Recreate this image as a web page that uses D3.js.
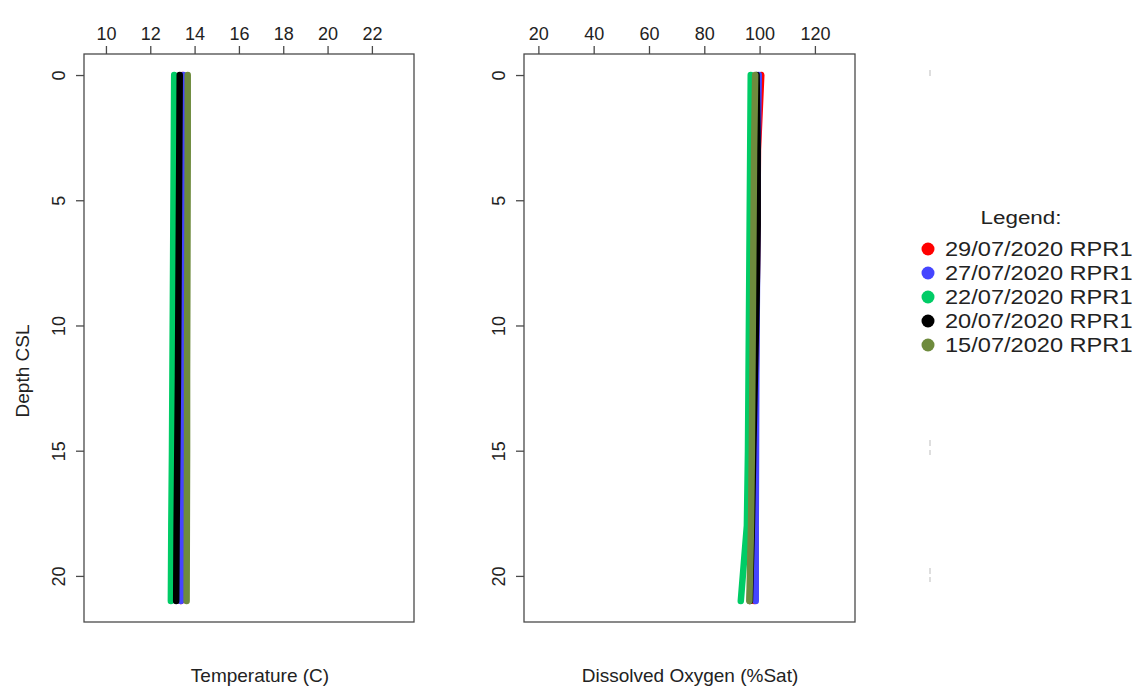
<!DOCTYPE html>
<html>
<head>
<meta charset="utf-8">
<script src="https://cdn.jsdelivr.net/npm/d3@7"></script>
<style>
  html, body { margin: 0; padding: 0; background: #fff; }
  svg { display: block; font-family: "Liberation Sans", Arial, sans-serif; }
</style>
</head>
<body>
<svg id="chart" width="1135" height="688"></svg>
<script>
// Profile depths (m, CSL) at which each cast was sampled
const depths = [0, 3, 6, 9, 12, 15, 18, 21];

// Cast labels, legend order
const casts = ["29/07/2020 RPR1", "27/07/2020 RPR1", "22/07/2020 RPR1", "20/07/2020 RPR1", "15/07/2020 RPR1"];
const castColors = ["#ff0000", "#4545ff", "#00cc66", "#000000", "#6e8b3d"];

// Temperature (C) per cast, one value per depth
const temp29 = [13.45, 13.44, 13.43, 13.42, 13.41, 13.40, 13.39, 13.38];
const temp27 = [13.50, 13.48, 13.46, 13.44, 13.42, 13.40, 13.39, 13.38];
const temp22 = [13.08, 13.06, 13.04, 13.02, 13.00, 12.98, 12.95, 12.93];
const temp20 = [13.33, 13.31, 13.29, 13.27, 13.25, 13.22, 13.19, 13.17];
const temp15 = [13.69, 13.69, 13.68, 13.67, 13.66, 13.66, 13.65, 13.64];

// Dissolved oxygen (%Sat) per cast, one value per depth
const do29 = [100.6, 99.4, 99.2, 98.9, 98.6, 98.4, 98.2, 98.1];
const do27 = [99.7, 99.3, 99.2, 99.0, 98.8, 98.7, 98.6, 98.6];
const do22 = [96.8, 96.6, 96.4, 96.2, 96.0, 95.8, 95.4, 93.2];
const do20 = [98.9, 99.3, 99.3, 98.9, 98.3, 97.7, 97.2, 96.5];
const do15 = [98.4, 98.0, 97.8, 97.6, 97.4, 97.2, 96.9, 96.3];

// Axis ticks
const tempTicks = [10, 12, 14, 16, 18, 20, 22];
const doTicks = [20, 40, 60, 80, 100, 120];
const depthTicks = [0, 5, 10, 15, 20];

const tempSeries = [temp29, temp27, temp22, temp20, temp15];
const doSeries = [do29, do27, do22, do20, do15];

const svg = d3.select("#chart");

const frameTop = 54, frameBottom = 622;
const y = d3.scaleLinear().domain([-0.84, 21.84]).range([frameTop, frameBottom]);

const panels = [
  { x0: 84, x1: 414, domain: [9.01, 23.9], ticks: tempTicks, series: tempSeries,
    title: "Temperature (C)", titleX: 260 },
  { x0: 524, x1: 855, domain: [14.8, 134.5], ticks: doTicks, series: doSeries,
    title: "Dissolved Oxygen (%Sat)", titleX: 690 }
];

const axisColor = "#4a4a4a";
const textColor = "#222";

panels.forEach(p => {
  const x = d3.scaleLinear().domain(p.domain).range([p.x0, p.x1]);
  const g = svg.append("g");

  // profile lines
  const line = d3.line()
    .x(d => x(d.v))
    .y(d => y(d.z));
  p.series.forEach((vals, i) => {
    const pts = depths.map((z, k) => ({ z, v: vals[k] }));
    g.append("path")
      .datum(pts)
      .attr("d", line)
      .attr("fill", "none")
      .attr("stroke", castColors[i])
      .attr("stroke-width", 6.5)
      .attr("stroke-linecap", "round")
      .attr("stroke-linejoin", "round");
  });

  // frame
  g.append("rect")
    .attr("x", p.x0).attr("y", frameTop)
    .attr("width", p.x1 - p.x0).attr("height", frameBottom - frameTop)
    .attr("fill", "none").attr("stroke", axisColor).attr("stroke-width", 1.3);

  // top axis
  const xAxis = d3.axisTop(x).tickValues(p.ticks).tickSize(8).tickPadding(6)
    .tickFormat(d3.format("d"));
  const ga = g.append("g").attr("transform", `translate(0,${frameTop})`).call(xAxis);
  ga.select(".domain").remove();
  ga.selectAll("line").attr("stroke", axisColor).attr("stroke-width", 1.3);
  ga.selectAll("text").attr("font-size", 18).attr("fill", textColor)
    .attr("font-family", "Liberation Sans, Arial, sans-serif");

  // left axis with rotated labels
  const yAxis = d3.axisLeft(y).tickValues(depthTicks).tickSize(8).tickFormat(d3.format("d"));
  const gy = g.append("g").attr("transform", `translate(${p.x0},0)`).call(yAxis);
  gy.select(".domain").remove();
  gy.selectAll("line").attr("stroke", axisColor).attr("stroke-width", 1.3);
  gy.selectAll("text")
    .attr("font-size", 18).attr("fill", textColor)
    .attr("font-family", "Liberation Sans, Arial, sans-serif")
    .attr("x", null).attr("dy", null)
    .attr("text-anchor", "middle")
    .attr("transform", "translate(-25,0) rotate(-90) translate(0,6)");

  // axis title
  g.append("text")
    .attr("x", p.titleX).attr("y", 682)
    .attr("text-anchor", "middle")
    .attr("font-size", 19).attr("fill", textColor)
    .text(p.title);
});

// y axis title
svg.append("text")
  .attr("transform", "translate(29,371) rotate(-90)")
  .attr("text-anchor", "middle")
  .attr("font-size", 19).attr("fill", textColor)
  .text("Depth CSL");

// faint residual tick marks of the empty third frame
const ghostMarks = [[70, 76], [440, 446], [450, 455], [568, 574], [577, 582]];
svg.append("g").selectAll("line").data(ghostMarks).join("line")
  .attr("x1", 930).attr("x2", 930)
  .attr("y1", d => d[0]).attr("y2", d => d[1])
  .attr("stroke", "#c8c8c8").attr("stroke-width", 1.2);

// legend
const lg = svg.append("g");
lg.append("text")
  .attr("transform", "translate(1021,224) scale(1.18,1)")
  .attr("text-anchor", "middle")
  .attr("font-size", 19).attr("fill", textColor)
  .text("Legend:");
casts.forEach((c, i) => {
  const yy = 249 + i * 24;
  lg.append("circle")
    .attr("cx", 928).attr("cy", yy).attr("r", 6.5)
    .attr("fill", castColors[i]);
  lg.append("text")
    .attr("transform", `translate(945,${yy + 7}) scale(1.18,1)`)
    .attr("font-size", 20).attr("fill", textColor)
    .text(c);
});
</script>
</body>
</html>
